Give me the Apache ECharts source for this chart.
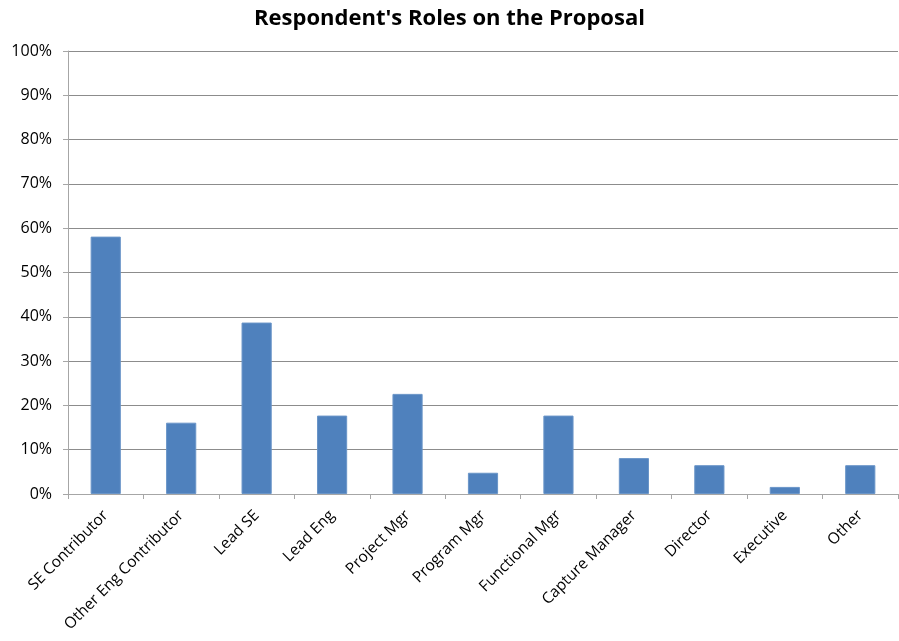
<!DOCTYPE html>
<html>
<head>
<meta charset="utf-8">
<script src="https://cdn.jsdelivr.net/npm/echarts@6/dist/echarts.min.js"></script>
<style>
  html, body { margin: 0; padding: 0; background: #fff; }
  #chart { width: 899px; height: 641px; }
</style>
</head>
<body>
<div id="chart"></div>
<script>
// Roles reported by respondents, share of all responses (%)
const roles = ['SE Contributor', 'Other Eng Contributor', 'Lead SE', 'Lead Eng', 'Project Mgr',
  'Program Mgr', 'Functional Mgr', 'Capture Manager', 'Director', 'Executive', 'Other'];
const shares = [58.1, 16.1, 38.7, 17.7, 22.6, 4.8, 17.7, 8.1, 6.5, 1.6, 6.5];
const yTicks = { min: 0, max: 100, step: 10 };

const font = '"Open Sans", "Liberation Sans", sans-serif';
const chart = echarts.init(document.getElementById('chart'));
chart.setOption({
  animation: false,
  title: {
    text: "Respondent's Roles on the Proposal",
    left: 'center',
    top: 3,
    textStyle: { fontFamily: font, fontSize: 22, fontWeight: 'bold', color: '#000' }
  },
  grid: { left: 68, right: 1, top: 51, bottom: 147 },
  xAxis: {
    type: 'category',
    data: roles,
    axisLine: { lineStyle: { color: '#a6a6a6' } },
    axisTick: { show: true, length: 5, lineStyle: { color: '#a6a6a6' } },
    axisLabel: {
      interval: 0, rotate: 45, margin: 19,
      fontFamily: font, fontSize: 15.5, color: '#000'
    }
  },
  yAxis: {
    type: 'value',
    min: yTicks.min, max: yTicks.max, interval: yTicks.step,
    axisLine: { show: true, lineStyle: { color: '#a6a6a6' } },
    axisTick: { show: true, length: 5, lineStyle: { color: '#a6a6a6' } },
    splitLine: { lineStyle: { color: '#8c8c8c' } },
    axisLabel: {
      formatter: '{value}%', margin: 16,
      fontFamily: font, fontSize: 16, color: '#000'
    }
  },
  series: [{
    type: 'bar',
    data: shares,
    barWidth: '40%',
    itemStyle: { color: '#4F81BD', borderColor: '#6a95c8', borderWidth: 1 }
  }]
});
</script>
</body>
</html>
